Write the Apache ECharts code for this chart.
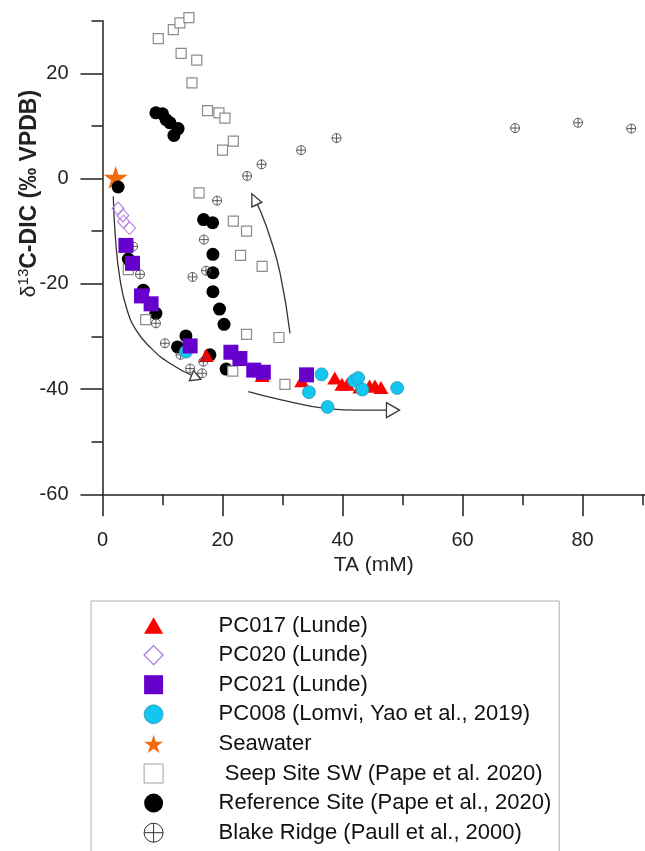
<!DOCTYPE html>
<html>
<head>
<meta charset="utf-8">
<script src="https://cdn.jsdelivr.net/npm/echarts@6/dist/echarts.min.js"></script>
<style>html,body{margin:0;padding:0;background:#fff}#c{width:645px;height:851px}</style>
</head>
<body>
<div id="c"></div>
<script>
// ---- tick labels ----
const xTickValues = [0, 20, 40, 60, 80];
const yTickValues = [-60, -40, -20, 0, 20];

// ---- series names ----
const seriesNames = [
  'PC017 (Lunde)',
  'PC020 (Lunde)',
  'PC021 (Lunde)',
  'PC008 (Lomvi, Yao et al., 2019)',
  'Seawater',
  ' Seep Site SW (Pape et al. 2020)',
  'Reference Site (Pape et al., 2020)',
  'Blake Ridge (Paull et al., 2000)'
];

// ---- data: [TA (mM), d13C-DIC] ----
const pc017 = [[17.3,-33.6],[26.6,-37.4],[33.2,-38.4],[38.7,-37.9],[39.9,-39.1],[40.8,-39.1],[42.9,-39.6],[44.5,-39.4],[45.4,-39.4],[46.4,-39.7]];
const pc020 = [[2.6,-5.7],[3.4,-7.0],[3.5,-8.2],[4.5,-9.4]];
const pc021 = [[3.9,-12.7],[5.0,-16.1],[6.5,-22.3],[8.1,-23.8],[14.6,-31.8],[21.4,-33.0],[22.9,-34.2],[25.2,-36.4],[26.8,-36.8],[34.0,-37.3]];
const pc008 = [[13.9,-32.9],[34.4,-40.6],[36.5,-37.2],[37.5,-43.4],[41.9,-38.4],[42.6,-37.9],[43.3,-40.1],[49.1,-39.8]];
const seawater = [[2.2,0.2]];
const seepSW = [[9.3,26.6],[11.8,28.3],[12.9,29.6],[14.4,30.6],[13.1,23.8],[15.7,22.5],[14.9,18.2],[17.5,12.9],[19.4,12.5],[20.4,11.5],[21.8,7.1],[20.0,5.4],[16.1,-2.7],[21.8,-8.1],[24.0,-10.0],[23.0,-14.6],[26.6,-16.7],[4.3,-17.3],[7.2,-26.8],[24.0,-29.6],[29.4,-30.2],[21.7,-36.6],[30.4,-39.1]];
const refSite = [[8.9,12.5],[10.0,12.3],[10.6,11.2],[11.25,10.6],[12.6,9.5],[11.9,8.2],[2.6,-1.6],[4.3,-15.3],[6.8,-21.2],[8.9,-25.6],[16.85,-7.8],[18.35,-8.4],[18.4,-14.4],[18.4,-17.9],[18.4,-21.5],[19.5,-24.8],[20.25,-27.7],[13.9,-29.9],[12.5,-32.0],[17.9,-33.5],[20.6,-36.2]];
const blakeRidge = [[68.75,9.6],[79.25,10.6],[88.1,9.5],[39.0,7.7],[33.1,5.4],[26.5,2.7],[24.1,0.5],[19.1,-4.2],[16.9,-11.6],[17.25,-17.5],[15.0,-18.7],[5.1,-12.9],[6.25,-18.2],[8.9,-27.5],[10.4,-31.3],[13.0,-33.5],[16.8,-34.8],[14.6,-36.1],[16.6,-37.0]];

// ---- annotation arrows (curves in data units; last point = arrow head) ----
const arrow1 = [[1.8,-3.4],[2.2,-12.0],[2.9,-19.0],[4.0,-24.6],[5.6,-28.8],[7.9,-32.0],[11.2,-35.1],[15.6,-37.8]];
const arrow2 = [[31.25,-29.4],[29.6,-18.0],[27.9,-11.1],[26.25,-6.0],[25.3,-3.9]];
const arrow3 = [[24.3,-40.5],[29.6,-42.0],[37.4,-43.7],[42.9,-44.0],[48.4,-44.0]];
const arrowHeadRotate = [-112, 25, -90];
const arrowHeadSize = [[11,10],[11,12],[15,13]];

const FONT = 'Liberation Sans, Arial, sans-serif';
const STAR = 'path://M0,-10L2.245,-3.09L9.511,-3.09L3.633,1.18L5.878,8.09L0,3.82L-5.878,8.09L-3.633,1.18L-9.511,-3.09L-2.245,-3.09Z';
const OPLUS = 'path://M0,-10A10,10,0,1,1,0,10A10,10,0,1,1,0,-10ZM-10,0L10,0M0,-10L0,10';
const TRI = 'path://M0,-8.66L10,8.66L-10,8.66Z';
const DIAM = 'path://M0,-10L10,0L0,10L-10,0Z';
const SQ = 'path://M-10,-10L10,-10L10,10L-10,10Z';
const CIRC = 'path://M0,-10A10,10,0,1,1,0,10A10,10,0,1,1,0,-10Z';

const styles = [
  {symbol:'triangle', size:[15,13], icon:TRI, item:{color:'#ff0000', opacity:1}, leg:{color:'#ff0000', borderWidth:0, opacity:1}, z:5},
  {symbol:'diamond', size:[12,13], icon:DIAM, item:{color:'rgba(0,0,0,0)', borderColor:'#b77fe0', borderWidth:1.1, opacity:1}, leg:{color:'rgba(0,0,0,0)', borderColor:'#a66fd6', borderWidth:1.2, opacity:1}, z:8},
  {symbol:'rect', size:15, icon:SQ, item:{color:'#6600cc', opacity:1}, leg:{color:'#6600cc', borderWidth:0, opacity:1}, z:9},
  {symbol:'circle', size:13, icon:CIRC, item:{color:'#12c6f2', borderColor:'#3b8fa8', borderWidth:0.7, opacity:1}, leg:{color:'#12c6f2', borderColor:'#3b8fa8', borderWidth:0.7, opacity:1}, z:7},
  {symbol:STAR, size:24, icon:STAR, item:{color:'#f26a10', opacity:1}, leg:{color:'#f26a10', borderWidth:0, opacity:1}, z:2},
  {symbol:'rect', size:10, icon:SQ, item:{color:'#ffffff', borderColor:'#8c8c8c', borderWidth:1.2, opacity:1}, leg:{color:'#ffffff', borderColor:'#a0a0a0', borderWidth:1, opacity:1}, z:4},
  {symbol:'circle', size:13, icon:CIRC, item:{color:'#000000', opacity:1}, leg:{color:'#000000', borderWidth:0, opacity:1}, z:3},
  {symbol:OPLUS, size:9, icon:OPLUS, item:{color:'rgba(0,0,0,0)', borderColor:'#4a4a4a', borderWidth:0.9, opacity:1}, leg:{color:'rgba(0,0,0,0)', borderColor:'#333', borderWidth:1, opacity:1}, z:6}
];
const dataSets = [pc017, pc020, pc021, pc008, seawater, seepSW, refSite, blakeRidge];

const series = dataSets.map((d, i) => ({
  name: seriesNames[i],
  type: 'scatter',
  data: d,
  symbol: styles[i].symbol,
  symbolSize: styles[i].size,
  symbolKeepAspect: true,
  itemStyle: styles[i].item,
  z: styles[i].z,
  clip: false,
  emphasis: {disabled: true},
  silent: true
}));

[arrow1, arrow2, arrow3].forEach((a, k) => {
  series.push({
    name: 'arrow' + (k + 1),
    type: 'line',
    smooth: 0.5,
    z: 1,
    silent: true,
    showSymbol: true,
    symbol: 'none',
    lineStyle: {color: '#333', width: 1.3},
    data: a.map((p, j) => j === a.length - 1
      ? {value: p, symbol: 'triangle', symbolSize: arrowHeadSize[k], symbolRotate: arrowHeadRotate[k],
         itemStyle: {color: '#ffffff', borderColor: '#333', borderWidth: 1.3}}
      : {value: p, symbol: 'none'})
  });
});

const chart = echarts.init(document.getElementById('c'), null, {renderer: 'canvas'});
chart.setOption({
  animation: false,
  backgroundColor: '#ffffff',
  grid: {left: 102.5, top: 20.7, right: 0, bottom: 356.7, containLabel: false, outerBoundsMode: 'none'},
  xAxis: {
    type: 'value', min: 0, max: 90.4, interval: 20,
    name: 'TA (mM)', nameLocation: 'middle', nameGap: 60, nameMoveOverlap: false,
    nameTextStyle: {fontFamily: FONT, fontSize: 21, color: '#222'},
    axisLine: {show: true, onZero: false, lineStyle: {color: '#222', width: 1.5}},
    axisTick: {show: true, length: 22, customValues: xTickValues, lineStyle: {color: '#222', width: 1.5}},
    minorTick: {show: true, splitNumber: 2, length: 11, lineStyle: {color: '#222', width: 1.5}},
    axisLabel: {customValues: xTickValues, margin: 36, fontFamily: FONT, fontSize: 20, color: '#222'},
    splitLine: {show: false}
  },
  yAxis: {
    type: 'value', min: -60, max: 30.001, interval: 20,
    name: '{d|δ}{s|13}{b|C-DIC (‰ VPDB)}', nameLocation: 'middle', nameGap: 60, nameMoveOverlap: false,
    nameTextStyle: {
      fontFamily: FONT, fontSize: 23, fontWeight: 'bold', color: '#222', padding: [0, 0, 0, 128],
      rich: {
        d: {fontFamily: FONT, fontSize: 21, fontWeight: 'normal', color: '#222', lineHeight: 26},
        s: {fontFamily: FONT, fontSize: 15, fontWeight: 'normal', color: '#222', verticalAlign: 'top', lineHeight: 15},
        b: {fontFamily: FONT, fontSize: 23, fontWeight: 'bold', color: '#222', lineHeight: 26}
      }
    },
    axisLine: {show: true, onZero: false, lineStyle: {color: '#222', width: 1.5}},
    axisTick: {show: true, length: 22, customValues: yTickValues, lineStyle: {color: '#222', width: 1.5}},
    minorTick: {show: true, splitNumber: 2, length: 11, lineStyle: {color: '#222', width: 1.5}},
    axisLabel: {customValues: yTickValues, margin: 34, fontFamily: FONT, fontSize: 20, color: '#222'},
    splitLine: {show: false}
  },
  legend: {
    orient: 'vertical', left: 91, top: 601, height: 320,
    padding: [13.5, 8, 40, 52.5],
    itemWidth: 19, itemHeight: 19, itemGap: 7.6,
    symbolKeepAspect: true,
    backgroundColor: '#ffffff', borderColor: '#b0b0b0', borderWidth: 1,
    selectedMode: false,
    textStyle: {fontFamily: FONT, fontSize: 22, color: '#111', lineHeight: 22, padding: [0, 0, 0, 50.5]},
    data: seriesNames.map((n, i) => ({name: n, icon: styles[i].icon, itemStyle: styles[i].leg}))
  },
  series: series
});
</script>
</body>
</html>
